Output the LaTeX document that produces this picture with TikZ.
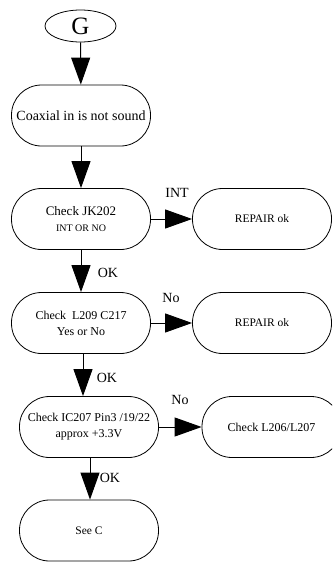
\documentclass[tikz,border=0pt]{standalone}
\usepackage{fontspec}
\setmainfont{Liberation Serif}
\usetikzlibrary{arrows.meta,shapes.geometric}
\newcommand{\fs}[1]{\fontsize{#1}{#1}\selectfont}
\begin{document}
\begin{tikzpicture}[x=1pt,y=-1pt,
  box/.style={draw,line width=0.8pt,rounded corners=30pt,minimum width=139pt,minimum height=61pt,inner sep=0pt,align=center},
  arr/.style={line width=1pt,-{Triangle[length=27pt,width=19pt]}},
  lbl/.style={font=\fs{14},inner sep=0pt}]
\useasboundingbox (0,0) rectangle (332,562);
\clip (0,0) rectangle (332,562);
\node[draw,ellipse,line width=0.8pt,minimum width=71pt,minimum height=32pt,inner sep=0pt,font=\fs{25}] (g) at (80.5,26) {G};
\node[box,font=\fs{14}] (coax) at (81,115.5) {Coaxial in is not sound};
\node[box,align=center] (jk) at (81,219) {{\fs{13}Check JK202}\\[4pt]{\fs{10}INT OR NO}};
\node[box,font=\fs{11.5}] (rep1) at (262,219) {REPAIR ok};
\node[box,font=\fs{12}] (l209) at (81,323) {Check\ \ L209 C217\\[4pt]Yes or No};
\node[box,font=\fs{11.5}] (rep2) at (262,323) {REPAIR ok};
\node[box,font=\fs{12}] (ic) at (89,427) {Check IC207 Pin3 /19/22\\[4pt]approx +3.3V};
\node[box,font=\fs{12}] (l206) at (271.5,427) {Check L206/L207};
\node[box,font=\fs{11.5}] (seec) at (89,530.5) {See C};
\draw[arr] (g) -- (coax);
\draw[arr] (coax) -- (jk);
\draw[arr] (jk.east) -- (rep1.west);
\draw[arr] (jk) -- (l209);
\draw[arr] ([xshift=2pt]l209.south) -- ([xshift=-6pt]ic.north);
\draw[arr] (l209.east) -- (rep2.west);
\draw[arr] (ic.east) -- (l206.west);
\draw[arr] ([xshift=1pt]ic.south) -- ([xshift=1pt]seec.north);
\node[lbl] (tint) at (177,193) {INT};
\node[lbl] (tok1) at (108,273) {OK};
\node[lbl] (tno1) at (171,298) {No};
\node[lbl] (tok2) at (107,378) {OK};
\node[lbl] (tno2) at (180,400) {No};
\node[lbl] (tok3) at (110,478) {OK};
\end{tikzpicture}
\end{document}
